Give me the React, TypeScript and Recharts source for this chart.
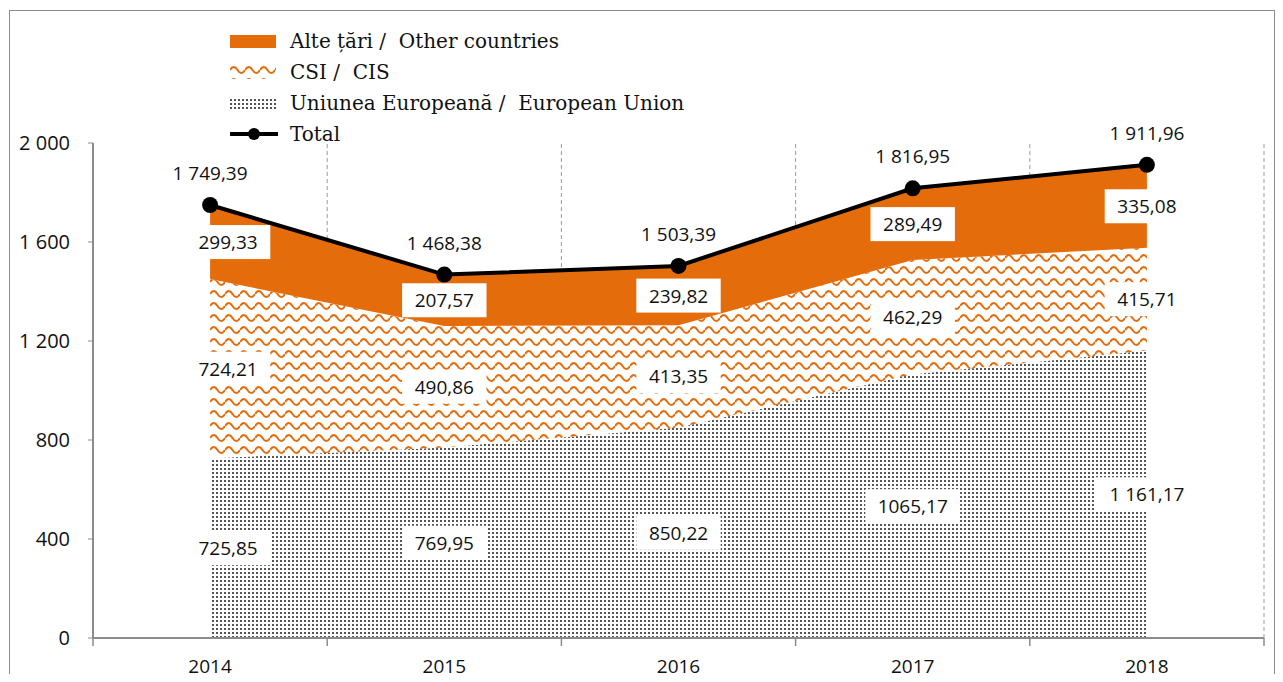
import React from 'react';
import { ComposedChart, Area, Line, XAxis, YAxis, ReferenceLine, Legend, LabelList } from 'recharts';

// exports by region, mil. USD
const years = [2014, 2015, 2016, 2017, 2018];
const euValues = [725.85, 769.95, 850.22, 1065.17, 1161.17];
const cisValues = [724.21, 490.86, 413.35, 462.29, 415.71];
const otherValues = [299.33, 207.57, 239.82, 289.49, 335.08];
const totalValues = [1749.39, 1468.38, 1503.39, 1816.95, 1911.96];

const euLabels = ['725,85', '769,95', '850,22', '1065,17', '1 161,17'];
const cisLabels = ['724,21', '490,86', '413,35', '462,29', '415,71'];
const otherLabels = ['299,33', '207,57', '239,82', '289,49', '335,08'];
const totalLabels = ['1 749,39', '1 468,38', '1 503,39', '1 816,95', '1 911,96'];

const yTicks = [0, 400, 800, 1200, 1600, 2000];
const yTickLabels = ['0', '400', '800', '1 200', '1 600', '2 000'];
const yearBounds = [2013.5, 2014.5, 2015.5, 2016.5, 2017.5, 2018.5];

const legendNames = ['Alte țări /  Other countries', 'CSI /  CIS', 'Uniunea Europeană /  European Union', 'Total'];

const ORANGE = '#E46C0A';
const NUM_FONT = '"Open Sans", "Noto Sans", sans-serif';

const data = years.map((year, i) => ({
  year,
  eu: euValues[i],
  cis: cisValues[i],
  other: otherValues[i],
  total: totalValues[i],
  euMid: euValues[i] / 2,
  cisMid: euValues[i] + cisValues[i] / 2,
  otherMid: euValues[i] + cisValues[i] + otherValues[i] / 2,
}));

const boxLabel = (texts: string[]) => (props: any) => {
  const { x, y, index } = props;
  const text = texts[index];
  const cx = x + (index === 0 ? 18 : 0);
  const w = text.length * 10.4 + 22;
  const h = 34;
  return (
    <g>
      <rect x={cx - w / 2} y={y - h / 2} width={w} height={h} fill="#fff" />
      <text x={cx} y={y} textAnchor="middle" dominantBaseline="central" fontFamily={NUM_FONT} fontSize={19} fill="#111">
        {text}
      </text>
    </g>
  );
};

const totalLabel = (props: any) => {
  const { x, y, index } = props;
  return (
    <text x={x} y={y - 32} textAnchor="middle" dominantBaseline="central" fontFamily={NUM_FONT} fontSize={19} fill="#111">
      {totalLabels[index]}
    </text>
  );
};

// short tick mark under the axis at each year boundary
const BoundaryTick = (props: any) => {
  const { x, y } = props;
  return <line x1={x} y1={y} x2={x} y2={y + 8} stroke="#8c8c8c" strokeWidth={1.5} />;
};

const Swatch = ({ i }: { i: number }) => (
  <svg width={48} height={16} style={{ display: 'block' }}>
    {i === 0 && <rect x={0} y={2} width={46} height={13} fill={ORANGE} />}
    {i === 1 && <rect x={0} y={2} width={46} height={13} fill="url(#csiPat)" />}
    {i === 2 && <rect x={0} y={2} width={46} height={13} fill="url(#euPat)" />}
    {i === 3 && (
      <g>
        <line x1={0} y1={8} x2={48} y2={8} stroke="#000" strokeWidth={4} />
        <circle cx={24} cy={8} r={6} fill="#000" />
      </g>
    )}
  </svg>
);

const renderLegend = () => (
  <div style={{ fontFamily: '"DejaVu Serif", "Liberation Serif", serif', fontSize: 20, color: '#111' }}>
    {legendNames.map((name, i) => (
      <div key={name} style={{ display: 'flex', alignItems: 'center', height: 31 }}>
        <Swatch i={i} />
        <span style={{ marginLeft: 12, whiteSpace: 'pre' }}>{name}</span>
      </div>
    ))}
  </div>
);

export default function App() {
  return (
    <div style={{ position: 'relative', margin: -8, width: 1283, height: 682, overflow: 'hidden', background: '#fff' }}>
      <div style={{ position: 'absolute', left: 0, top: 0 }}>
        <ComposedChart width={1283} height={682} data={data} margin={{ top: 143, right: 19, bottom: 0, left: 0 }}>
          <defs>
            <pattern id="csiPat" patternUnits="userSpaceOnUse" width={15} height={12}>
              <rect width={15} height={12} fill="#fff" />
              <path d="M0 6 Q3.75 0 7.5 6 T15 6" stroke={ORANGE} strokeWidth={2} fill="none" />
            </pattern>
            <pattern id="euPat" patternUnits="userSpaceOnUse" width={4} height={4}>
              <rect width={4} height={4} fill="#fff" />
              <rect width={2} height={2} fill="#555" />
            </pattern>
          </defs>
          <XAxis
            dataKey="year"
            type="number"
            domain={[2013.5, 2018.5]}
            ticks={yearBounds}
            interval={0}
            tick={<BoundaryTick />}
            height={1}
            tickSize={0}
            tickMargin={0}
            axisLine={{ stroke: '#8c8c8c', strokeWidth: 2 }}
            tickLine={false}
          />
          <XAxis
            xAxisId="lab"
            dataKey="year"
            type="number"
            domain={[2013.5, 2018.5]}
            ticks={years}
            interval={0}
            height={43}
            axisLine={false}
            tickLine={false}
            tickSize={0}
            tickMargin={21}
            tick={{ fontFamily: NUM_FONT, fontSize: 19, fill: '#111' }}
          />
          <YAxis
            domain={[0, 2000]}
            ticks={yTicks}
            interval={0}
            width={93}
            tickSize={5}
            tickMargin={18}
            tickFormatter={(v: number) => yTickLabels[yTicks.indexOf(v)]}
            axisLine={{ stroke: '#8c8c8c', strokeWidth: 2 }}
            tickLine={{ stroke: '#8c8c8c' }}
            tick={{ fontFamily: NUM_FONT, fontSize: 20, fill: '#111' }}
          />
          <Legend
            layout="horizontal"
            verticalAlign="middle"
            align="center"
            content={renderLegend}
            wrapperStyle={{ top: 25, left: 230, width: 600 }}
          />
          {yearBounds.slice(1).map((b) => (
            <ReferenceLine key={b} x={b} stroke="#9a9a9a" strokeDasharray="4 3" zIndex={-50} />
          ))}
          <Area type="linear" dataKey="eu" stackId="1" stroke="none" fill="url(#euPat)" fillOpacity={1} isAnimationActive={false} />
          <Area type="linear" dataKey="cis" stackId="1" stroke="none" fill="url(#csiPat)" fillOpacity={1} isAnimationActive={false} />
          <Area type="linear" dataKey="other" stackId="1" stroke="none" fill={ORANGE} fillOpacity={1} isAnimationActive={false} />
          <Line dataKey="euMid" stroke="none" dot={false} activeDot={false} isAnimationActive={false} legendType="none">
            <LabelList dataKey="euMid" content={boxLabel(euLabels)} />
          </Line>
          <Line dataKey="cisMid" stroke="none" dot={false} activeDot={false} isAnimationActive={false} legendType="none">
            <LabelList dataKey="cisMid" content={boxLabel(cisLabels)} />
          </Line>
          <Line dataKey="otherMid" stroke="none" dot={false} activeDot={false} isAnimationActive={false} legendType="none">
            <LabelList dataKey="otherMid" content={boxLabel(otherLabels)} />
          </Line>
          <Line
            type="linear"
            dataKey="total"
            stroke="#000"
            strokeWidth={4}
            dot={{ r: 8, fill: '#000', stroke: 'none' }}
            activeDot={false}
            isAnimationActive={false}
          >
            <LabelList dataKey="total" content={totalLabel} />
          </Line>
        </ComposedChart>
      </div>
      <div
        style={{
          position: 'absolute',
          left: 9,
          top: 10,
          width: 1266,
          height: 700,
          border: '1.5px solid #8c8c8c',
          boxSizing: 'border-box',
          pointerEvents: 'none',
        }}
      />
    </div>
  );
}
